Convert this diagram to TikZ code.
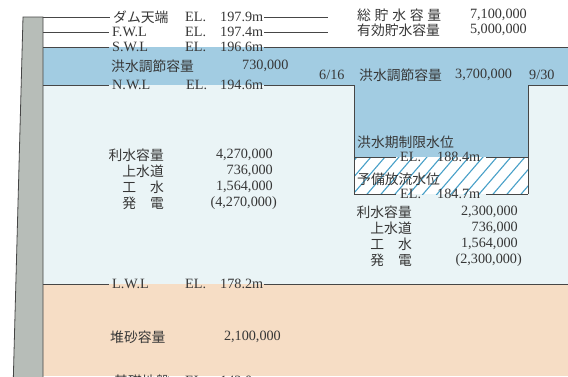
\documentclass[tikz,border=0pt]{standalone}
\usepackage{fontspec}
\setmainfont{Liberation Serif}
\newfontfamily\jp{Noto Sans CJK JP}
\definecolor{bluec}{RGB}{162,204,226}
\definecolor{lightc}{RGB}{234,244,246}
\definecolor{sandc}{RGB}{246,221,197}
\definecolor{damc}{RGB}{183,189,184}
\definecolor{hatchc}{RGB}{72,160,200}
\definecolor{txtc}{RGB}{55,55,55}
\definecolor{linec}{RGB}{70,70,70}
\begin{document}
\begin{tikzpicture}[x=1pt,y=-1pt,
  txt/.style={inner sep=0pt, text=txtc, font=\fontsize{14.2}{14}\selectfont},
  jtxt/.style={inner sep=0pt, text=txtc, font=\jp\fontsize{13.8}{14}\selectfont},
  lvl/.style={draw=linec, line width=0.7pt},
  edge/.style={draw=linec, line width=0.6pt},
]
\useasboundingbox (0,0) rectangle (568,376);
\clip (0,0) rectangle (568,376);
% regions
\fill[white] (0,0) rectangle (568,376);
\fill[bluec] (43,47) rectangle (568,85);
\fill[lightc] (43,85) rectangle (568,284);
\fill[bluec] (354,85) rectangle (528,157);
\fill[white] (354,157) rectangle (528,194);
\begin{scope}
  \clip (354,157) rectangle (528,194);
  \foreach \k in {0,...,16} {
    \draw[hatchc, line width=1.1pt] (320+14*\k,200) -- (363+14*\k,150);
  }
\end{scope}
\fill[sandc] (43,284) rectangle (568,376);
% dam
\draw[fill=damc, draw=linec, line width=0.8pt] (13,390) -- (23,17) -- (43,17) -- (43,390);

% top level labels
\node[jtxt,anchor=west] (crestL) at (113,17) {ダム天端};
\node[txt,anchor=west]  (crestE) at (185,17) {EL.};
\node[txt,anchor=west]  (crestV) at (220,17) {197.9m};
\node[txt,anchor=west]  (fwlL) at (112,32) {F.W.L};
\node[txt,anchor=west]  (fwlE) at (185,32) {EL.};
\node[txt,anchor=west]  (fwlV) at (220,32) {197.4m};
\node[txt,anchor=west]  (swlL) at (112,47) {S.W.L};
\node[txt,anchor=west]  (swlE) at (185,47) {EL.};
\node[txt,anchor=west]  (swlV) at (220,47) {196.6m};
\node[jtxt,anchor=west] (floodL) at (111,66) {洪水調節容量};
\node[txt,anchor=west]  (floodV) at (242,66) {730,000};
\node[txt,anchor=west]  (nwlL) at (112,85) {N.W.L};
\node[txt,anchor=west]  (nwlE) at (186,85) {EL.};
\node[txt,anchor=west]  (nwlV) at (220,85) {194.6m};
\node[txt,anchor=west]  (lwlL) at (112,284) {L.W.L};
\node[txt,anchor=west]  (lwlE) at (185,284) {EL.};
\node[txt,anchor=west]  (lwlV) at (220,284) {178.2m};
\node[jtxt,anchor=west] (sedL) at (110,337) {堆砂容量};
\node[txt,anchor=east]  (sedV) at (281,337) {2,100,000};
\node[jtxt,anchor=west] (baseL) at (114,381) {基礎地盤};
\node[txt,anchor=west]  (baseE) at (185,381) {EL.};
\node[txt,anchor=west]  (baseV) at (220,381) {142.0m};

% coordinates for level lines
\coordinate (crestA) at (43,17);  \coordinate (crestB) at (328,17);
\coordinate (fwlA) at (43,32);    \coordinate (fwlB) at (328,32);
\coordinate (swlA) at (43,47);    \coordinate (swlB) at (568,47);
\coordinate (nwlA) at (43,85);    \coordinate (colTL) at (354,85);
\coordinate (colTR) at (528,85);  \coordinate (nwlB) at (568,85);
\coordinate (colBL) at (354,194); \coordinate (colBR) at (528,194);
\coordinate (lwlA) at (43,284);   \coordinate (lwlB) at (568,284);
\coordinate (limL) at (354,157);  \coordinate (limR) at (528,157);

\draw[lvl] (crestA) -- ([xshift=-3pt]crestL.west);
\draw[lvl] ([xshift=1pt]crestV.east) -- (crestB);
\draw[lvl] (fwlA) -- ([xshift=-3pt]fwlL.west);
\draw[lvl] ([xshift=1pt]fwlV.east) -- (fwlB);
\draw[lvl] (swlA) -- ([xshift=-3pt]swlL.west);
\draw[edge] ([xshift=1pt]swlV.east) -- (swlB);
\draw[lvl] (nwlA) -- ([xshift=-3pt]nwlL.west);
\draw[edge] ([xshift=1pt]nwlV.east) -- (colTL) -- (colBL);
\draw[edge] (nwlB) -- (colTR) -- (colBR);
\draw[lvl] (lwlA) -- ([xshift=-3pt]lwlL.west);
\draw[lvl] ([xshift=1pt]lwlV.east) -- (lwlB);

% right top totals
\node[jtxt,anchor=west] (totL) at (357,15) {\makebox[84pt][s]{総\hfil 貯\hfil 水\hfil 容\hfil 量}};
\node[txt,anchor=east]  (totV) at (527,15) {7,100,000};
\node[jtxt,anchor=west] (effL) at (357,30) {\makebox[84pt][s]{有効貯水容量}};
\node[txt,anchor=east]  (effV) at (527,30) {5,000,000};

% flood season
\node[txt,anchor=west]  (d1) at (319,75) {6/16};
\node[jtxt,anchor=west] (fsL) at (359,75) {洪水調節容量};
\node[txt,anchor=west]  (fsV) at (455,75) {3,700,000};
\node[txt,anchor=west]  (d2) at (529,75) {9/30};

\node[jtxt,anchor=west] (limT) at (357,142) {洪水期制限水位};
\node[txt,anchor=west]  (limE) at (400,157) {EL.};
\node[txt,anchor=west]  (limV) at (437,157) {188.4m};
\node[jtxt,anchor=west] (preT) at (357,179) {予備放流水位};
\node[txt,anchor=west]  (preE) at (400,194) {EL.};
\node[txt,anchor=west]  (preV) at (437,194) {184.7m};
\draw[edge] (limL) -- ([xshift=-4pt]limE.west);
\draw[edge] ([xshift=6pt]limV.east) -- (limR);
\draw[edge] (colBL) -- ([xshift=-4pt]preE.west);
\draw[edge] ([xshift=6pt]preV.east) -- (colBR);

% left storage block
\node[jtxt,anchor=east] (u1L) at (164,155) {利水容量};
\node[txt,anchor=east]  (u1V) at (273,155) {4,270,000};
\node[jtxt,anchor=east] (u2L) at (164,171) {上水道};
\node[txt,anchor=east]  (u2V) at (273,171) {736,000};
\node[jtxt,anchor=east] (u3L) at (164,187) {工\hspace{1em}水};
\node[txt,anchor=east]  (u3V) at (273,187) {1,564,000};
\node[jtxt,anchor=east] (u4L) at (164,203) {発\hspace{1em}電};
\node[txt,anchor=east]  (u4V) at (277,203) {(4,270,000)};

% right storage block
\node[jtxt,anchor=east] (r1L) at (412,212) {利水容量};
\node[txt,anchor=east]  (r1V) at (518,212) {2,300,000};
\node[jtxt,anchor=east] (r2L) at (412,228) {上水道};
\node[txt,anchor=east]  (r2V) at (518,228) {736,000};
\node[jtxt,anchor=east] (r3L) at (412,244) {工\hspace{1em}水};
\node[txt,anchor=east]  (r3V) at (518,244) {1,564,000};
\node[jtxt,anchor=east] (r4L) at (412,260) {発\hspace{1em}電};
\node[txt,anchor=east]  (r4V) at (522,260) {(2,300,000)};
\end{tikzpicture}
\end{document}
